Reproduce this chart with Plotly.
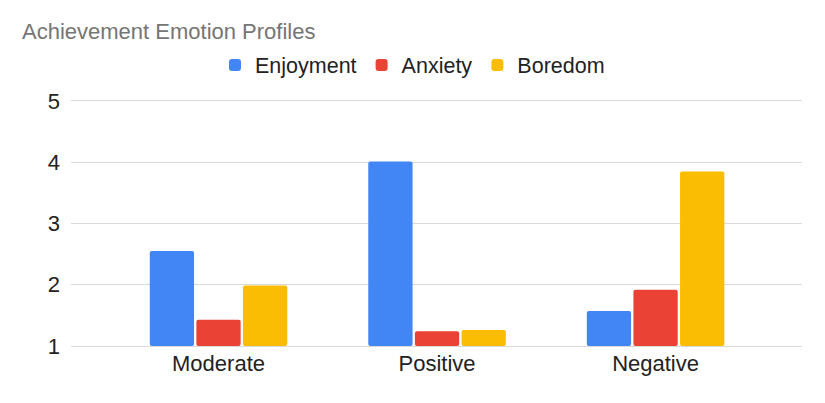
import plotly.graph_objects as go

categories = ["Moderate", "Positive", "Negative"]
enjoyment = [2.55, 4.01, 1.57]
anxiety = [1.43, 1.24, 1.92]
boredom = [1.99, 1.26, 3.85]
y_ticks = [1, 2, 3, 4, 5]

series = [
    ("Enjoyment", enjoyment, "#4285F4"),
    ("Anxiety", anxiety, "#EA4335"),
    ("Boredom", boredom, "#FBBC04"),
]

fig = go.Figure()
for name, vals, color in series:
    fig.add_trace(go.Bar(
        x=categories, y=[v - 1 for v in vals], base=1, name=name,
        marker=dict(color=color, line=dict(width=0)),
        hovertemplate="%{x}: %{customdata}<extra>" + name + "</extra>",
        customdata=vals,
    ))

fig.update_layout(
    width=825, height=403,
    margin=dict(l=71, r=23, t=99, b=55, autoexpand=False),
    paper_bgcolor="white", plot_bgcolor="white",
    font=dict(family="Liberation Sans, Arial, sans-serif", color="#222222", size=22),
    title=dict(text="Achievement Emotion Profiles", x=22/825, xanchor="left", xref="container",
               y=1 - 31/403, yanchor="middle", yref="container",
               font=dict(size=22, color="#757575")),
    legend=dict(orientation="h", x=0.5, xanchor="center", xref="container",
                y=1 - 65/403, yanchor="middle", yref="container",
                font=dict(size=21.5, color="#222222"), itemwidth=30, traceorder="normal"),
    barmode="group", bargap=0.36, bargroupgap=0.05, barcornerradius=2,
    showlegend=True,
)
fig.update_xaxes(range=[-0.675, 2.67], showgrid=False, showline=False, ticks="",
                 tickfont=dict(size=22, color="#222222"))
fig.update_yaxes(range=[0.968, 5.032], tickvals=y_ticks, showgrid=True, gridcolor="#D9D9D9",
                 gridwidth=1, zeroline=False, showline=False, ticks="", ticklabelstandoff=10,
                 tickfont=dict(size=22, color="#222222"))

fig.write_html("out.html", config={"displayModeBar": False},
               post_script="document.body.style.margin='0';")
